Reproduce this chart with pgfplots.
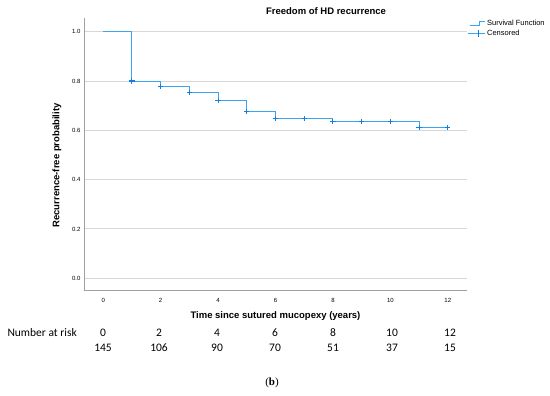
\documentclass[border=0pt]{standalone}
\usepackage{pgfplots}
\pgfplotsset{compat=1.18}
\usepackage{fontspec}
\setmainfont{Liberation Sans}
\newfontfamily\carlito{Carlito}
\newfontfamily\seriff{Liberation Serif}
\definecolor{lineblue}{RGB}{60,165,240}
\definecolor{markblue}{RGB}{20,125,225}
\definecolor{gridgray}{RGB}{215,215,215}
\definecolor{axgray}{RGB}{160,160,160}
\begin{document}
\begin{tikzpicture}[x=1pt,y=1pt]
\path[use as bounding box] (0,0) rectangle (550,396);
\begin{axis}[
  at={(84pt,105pt)}, anchor=south west,
  scale only axis, width=383pt, height=273pt,
  xmin=-0.67, xmax=12.67, ymin=-0.0515, ymax=1.0556,
  axis x line*=bottom, axis y line*=left,
  axis line style={-, draw=axgray, line width=1pt},
  xtick={0,2,4,6,8,10,12},
  ytick={0,0.2,0.4,0.6,0.8,1.0},
  yticklabels={0.0,0.2,0.4,0.6,0.8,1.0},
  major tick length=0pt,
  ymajorgrids, grid style={draw=gridgray, line width=1pt},
  /pgf/number format/assume math mode=true,
  tick label style={font=\fontsize{6}{7}\selectfont},
  xticklabel style={yshift=-4pt},
  xlabel={\textbf{Time since sutured mucopexy (years)}},
  xlabel style={font=\fontsize{9.5}{10}\selectfont, at={(axis description cs:0.5,0)}, anchor=center, yshift=-25.5pt},
  ylabel={\textbf{Recurrence-free probability}},
  ylabel style={font=\fontsize{9.5}{10}\selectfont, at={(axis description cs:-0.0705,0.46)}, anchor=center},
  legend style={at={(axis description cs:1,1)}, anchor=north west, draw=none, fill=none,
    font=\fontsize{7.5}{8}\selectfont, inner sep=0pt, row sep=-1pt, cells={anchor=west}},
  legend cell align=left,
]
\addplot[const plot, draw=lineblue, line width=1pt, no marks,
  legend image code/.code={\draw[draw=lineblue, line width=0.9pt] (0pt,-2pt)--(10pt,-2pt)--(10pt,2pt)--(15pt,2pt);}] coordinates {
 (0,1.0) (1,0.800) (2,0.777) (3,0.755) (4,0.722) (5,0.677) (6,0.648) (8,0.636) (11,0.611) (12,0.611)
};
\addlegendentry{Survival Function}
\addplot[only marks, mark=+, mark size=2.6pt, draw=markblue, line width=1.1pt,
  legend image code/.code={\draw[draw=lineblue, line width=0.9pt] (-2pt,0pt)--(15pt,0pt); \draw[draw=markblue, line width=0.9pt] (9pt,-3.5pt)--(9pt,3.5pt);}] coordinates {
 (1,0.800) (2,0.777) (3,0.755) (4,0.722) (5,0.677) (6,0.648) (7,0.648) (8,0.636) (9,0.636) (10,0.636) (11,0.611) (12,0.611)
};
\addlegendentry{Censored}
\end{axis}
\node[font=\bfseries\fontsize{9.5}{10}\selectfont, anchor=center] at (326,385) {Freedom of HD recurrence};
\begin{scope}[font=\carlito\fontsize{11.5}{12}\selectfont]
\node[anchor=west] at (4,63) {Number at risk};
\foreach \px/\a/\b in {103/0/145,159/2/106,217/4/90,275/6/70,333/8/51,392/10/37,450/12/15}{
  \node[anchor=center] at (\px,63) {\a};
  \node[anchor=center] at (\px,48) {\b};
}
\end{scope}
\node[font=\seriff\fontsize{11}{12}\selectfont] at (272,13) {(\textbf{b})};
\end{tikzpicture}
\end{document}
